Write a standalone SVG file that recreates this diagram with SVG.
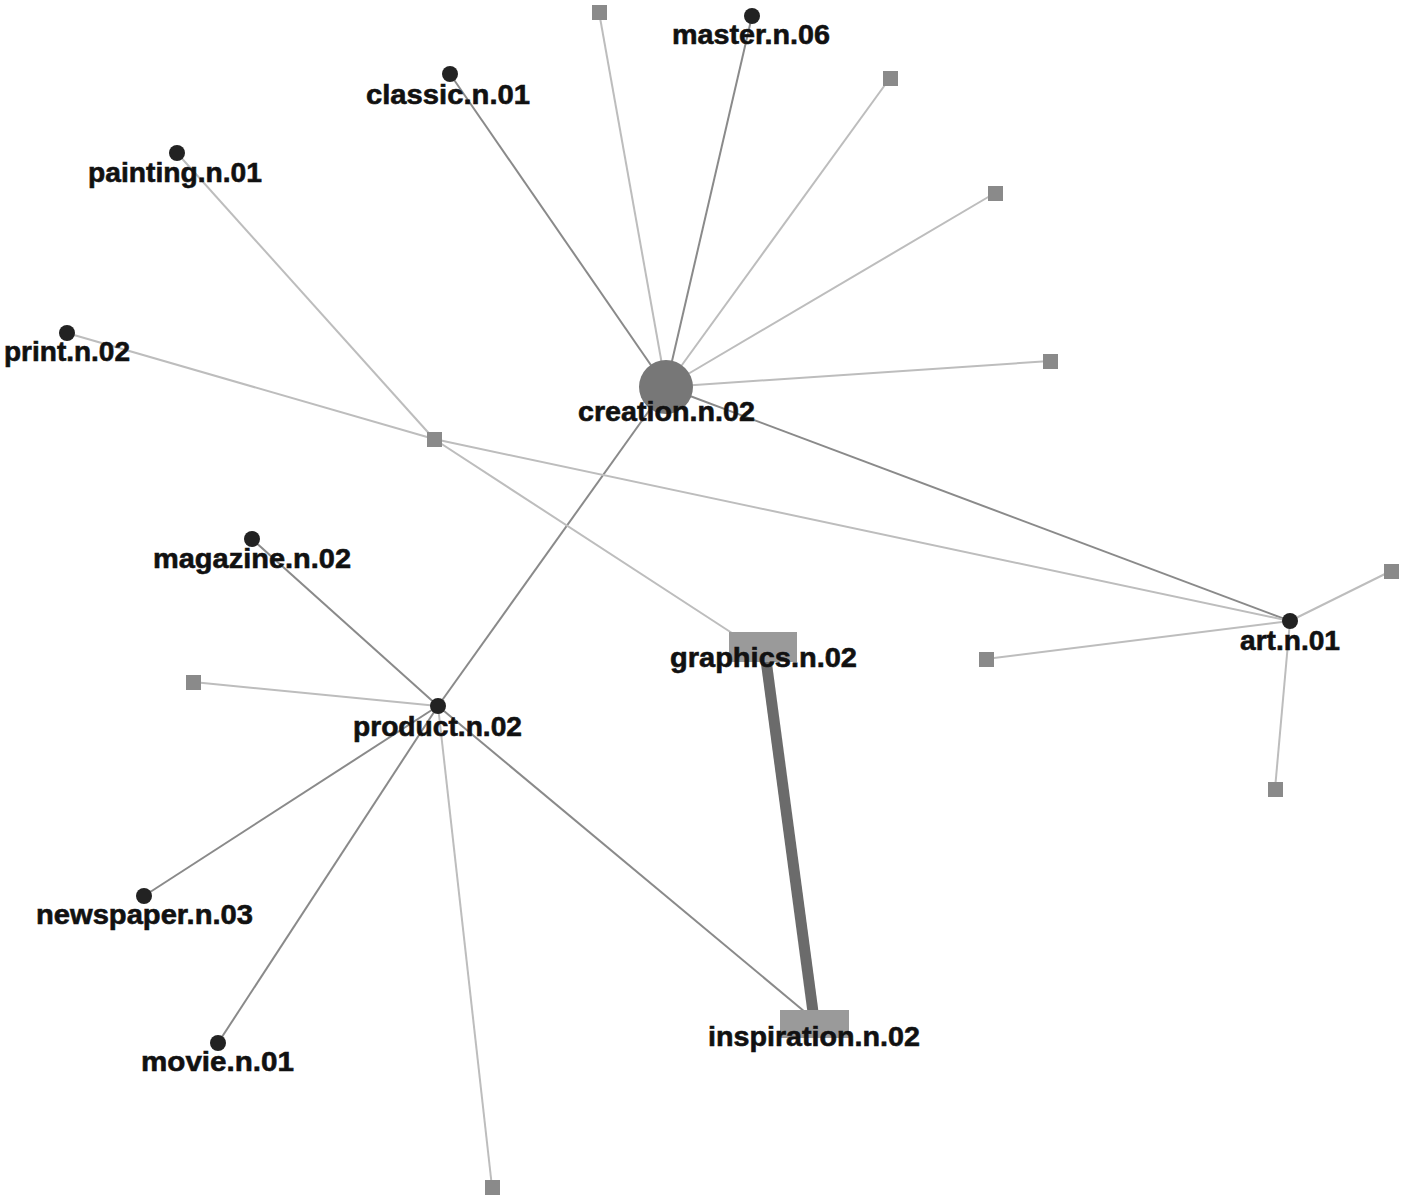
<svg xmlns="http://www.w3.org/2000/svg" width="1406" height="1202" viewBox="0 0 1406 1202">
<style>
.e1{stroke:#bdbdbd;stroke-width:2;fill:none}
.e2{stroke:#8a8a8a;stroke-width:2;fill:none}
.dot{fill:#222}
.sq{fill:#8a8a8a}
.lbl{font-family:"Liberation Sans",Arial,sans-serif;font-weight:bold;font-size:28px;fill:#111;stroke:#111;stroke-width:0.6}
</style>
<rect width="1406" height="1202" fill="#fff"/>
<g id="connectors">
<line class="e1" x1="666" y1="387" x2="599" y2="12"/>
<line class="e2" x1="666" y1="387" x2="752" y2="16"/>
<line class="e2" x1="666" y1="387" x2="450" y2="74"/>
<line class="e1" x1="666" y1="387" x2="890" y2="78"/>
<line class="e1" x1="666" y1="387" x2="995" y2="193"/>
<line class="e1" x1="666" y1="387" x2="1050" y2="361"/>
<line class="e2" x1="666" y1="387" x2="1290" y2="621"/>
<line class="e2" x1="666" y1="387" x2="438" y2="706"/>
<line class="e1" x1="177" y1="153" x2="434" y2="439"/>
<line class="e1" x1="434" y1="439" x2="735" y2="635"/>
<line class="e1" x1="67" y1="333" x2="434" y2="439"/>
<line class="e1" x1="434" y1="439" x2="1290" y2="621"/>
<line class="e1" x1="1290" y1="621" x2="1391" y2="571"/>
<line class="e1" x1="1290" y1="621" x2="986" y2="659"/>
<line class="e1" x1="1290" y1="621" x2="1275" y2="789"/>
<line class="e2" x1="438" y1="706" x2="252" y2="539"/>
<line class="e1" x1="438" y1="706" x2="193" y2="682"/>
<line class="e2" x1="438" y1="706" x2="144" y2="896"/>
<line class="e2" x1="438" y1="706" x2="218" y2="1043"/>
<line class="e1" x1="438" y1="706" x2="492" y2="1187"/>
<line class="e2" x1="438" y1="706" x2="805" y2="1012"/>
<line x1="766" y1="660" x2="813" y2="1012" stroke="#6b6b6b" stroke-width="11"/>
</g>
<g id="creation"><circle cx="666" cy="387" r="27" fill="#777"/><text class="lbl" x="578" y="421" textLength="177" lengthAdjust="spacingAndGlyphs">creation.n.02</text></g>
<g id="master"><circle class="dot" cx="752" cy="16" r="8"/><text class="lbl" x="672" y="44" textLength="158" lengthAdjust="spacingAndGlyphs">master.n.06</text></g>
<g id="classic"><circle class="dot" cx="450" cy="74" r="8"/><text class="lbl" x="366" y="104" textLength="164" lengthAdjust="spacingAndGlyphs">classic.n.01</text></g>
<g id="painting"><circle class="dot" cx="177" cy="153" r="8"/><text class="lbl" x="88" y="182" textLength="174" lengthAdjust="spacingAndGlyphs">painting.n.01</text></g>
<g id="print"><circle class="dot" cx="67" cy="333" r="8"/><text class="lbl" x="4" y="361" textLength="126" lengthAdjust="spacingAndGlyphs">print.n.02</text></g>
<g id="sq1"><rect class="sq" x="592" y="5" width="15" height="15"/></g>
<g id="sq2"><rect class="sq" x="883" y="71" width="15" height="15"/></g>
<g id="sq3"><rect class="sq" x="988" y="186" width="15" height="15"/></g>
<g id="sq4"><rect class="sq" x="1043" y="354" width="15" height="15"/></g>
<g id="sq5"><rect class="sq" x="427" y="432" width="15" height="15"/></g>
<g id="art"><circle class="dot" cx="1290" cy="621" r="8"/><text class="lbl" x="1240" y="650" textLength="100" lengthAdjust="spacingAndGlyphs">art.n.01</text></g>
<g id="sq6"><rect class="sq" x="1384" y="564" width="15" height="15"/></g>
<g id="sq7"><rect class="sq" x="979" y="652" width="15" height="15"/></g>
<g id="sq8"><rect class="sq" x="1268" y="782" width="15" height="15"/></g>
<g id="graphics"><rect x="729" y="632" width="68" height="30" fill="#9a9a9a"/><text class="lbl" x="670" y="667" textLength="187" lengthAdjust="spacingAndGlyphs">graphics.n.02</text></g>
<g id="inspiration"><rect x="780" y="1010" width="69" height="28" fill="#9a9a9a"/><text class="lbl" x="708" y="1046" textLength="212" lengthAdjust="spacingAndGlyphs">inspiration.n.02</text></g>
<g id="product"><circle class="dot" cx="438" cy="706" r="8"/><text class="lbl" x="353" y="736" textLength="169" lengthAdjust="spacingAndGlyphs">product.n.02</text></g>
<g id="magazine"><circle class="dot" cx="252" cy="539" r="8"/><text class="lbl" x="153" y="568" textLength="198" lengthAdjust="spacingAndGlyphs">magazine.n.02</text></g>
<g id="sq9"><rect class="sq" x="186" y="675" width="15" height="15"/></g>
<g id="newspaper"><circle class="dot" cx="144" cy="896" r="8"/><text class="lbl" x="36" y="924" textLength="217" lengthAdjust="spacingAndGlyphs">newspaper.n.03</text></g>
<g id="movie"><circle class="dot" cx="218" cy="1043" r="8"/><text class="lbl" x="141" y="1071" textLength="153" lengthAdjust="spacingAndGlyphs">movie.n.01</text></g>
<g id="sq10"><rect class="sq" x="485" y="1180" width="15" height="15"/></g>
</svg>
